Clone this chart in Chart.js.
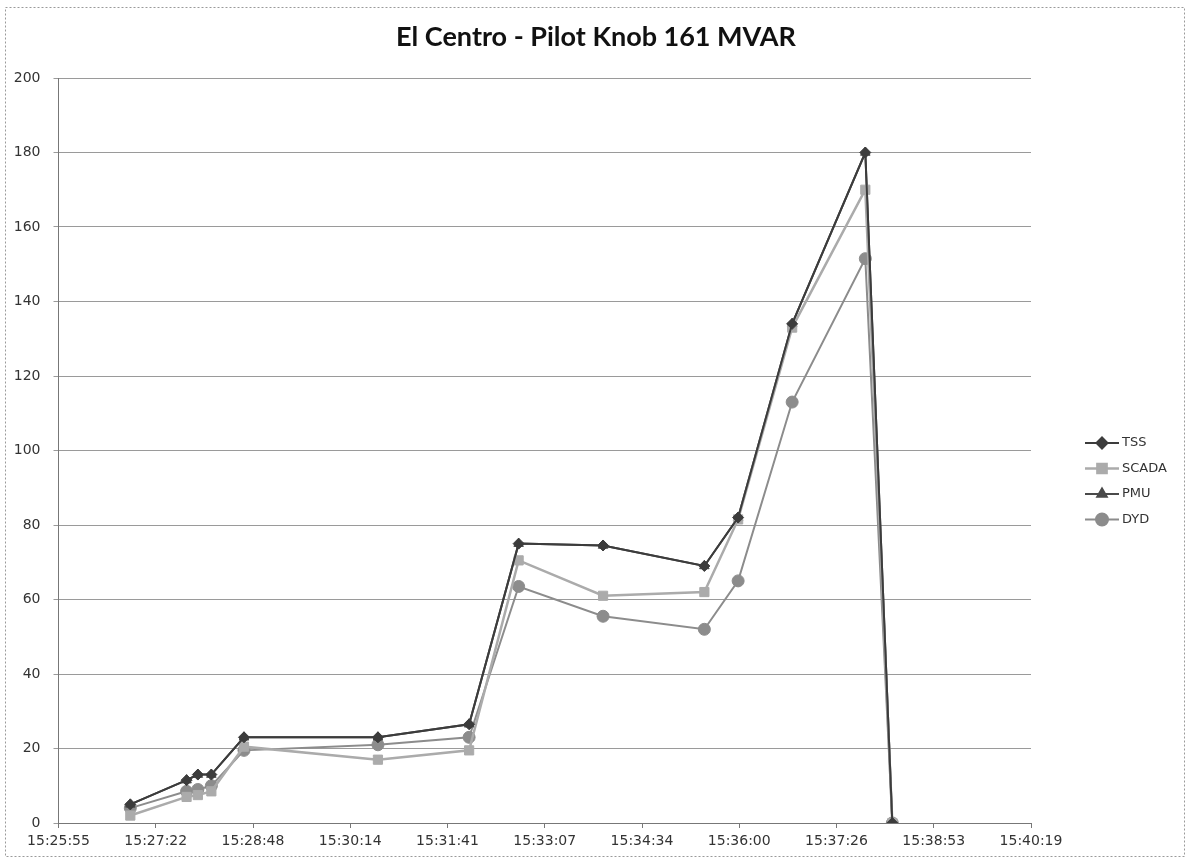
<!DOCTYPE html>
<html>
<head>
<meta charset="utf-8">
<script src="https://cdn.jsdelivr.net/npm/chart.js@4.4.0/dist/chart.umd.min.js"></script>
<style>
  html, body { margin: 0; padding: 0; background: #fff; }
  #wrap { width: 1193px; height: 862px; position: relative; }
</style>
</head>
<body>
<div id="wrap"><canvas id="chart"></canvas></div>
<script>
// valores
var times = ['15:26:59', '15:27:49', '15:27:59', '15:28:11', '15:28:40', '15:30:39', '15:32:00',
             '15:32:44', '15:33:59', '15:35:29', '15:35:59', '15:36:47', '15:37:52', '15:38:16'];
var tss   = [5, 11.5, 13, 13, 23, 23, 26.5, 75, 74.5, 69, 82, 134, 180, 0];
var scada = [2, 7, 7.5, 8.5, 20.5, 17, 19.5, 70.5, 61, 62, 81.5, 133, 170, 0];
var pmu   = [5, 11.5, 13, 13, 23, 23, 26.5, 75, 74.5, 69, 82, 134, 180, 0];
var dyd   = [4, 8.5, 9, 10, 19.5, 21, 23, 63.5, 55.5, 52, 65, 113, 151.5, 0];

var xTickLabels = ['15:25:55', '15:27:22', '15:28:48', '15:30:14', '15:31:41', '15:33:07',
                   '15:34:34', '15:36:00', '15:37:26', '15:38:53', '15:40:19'];
var chartTitle = 'El Centro - Pilot Knob 161 MVAR';

// el eje x va en unidades de 0.001 dia (86.4 s), como en Excel
function toUnits(t) {
    var p = t.split(':');
    return (p[0] * 3600 + p[1] * 60 + Number(p[2])) / 86.4;
}

function points(values) {
    return values.map(function (v, i) { return { x: toUnits(times[i]), y: v }; });
}

var series = [
    { label: 'TSS',   data: tss,   color: '#3c3c3c', style: 'rectRot',  radius: 5.5, width: 2 },
    { label: 'SCADA', data: scada, color: '#ababab', style: 'rect',     radius: 6.5, width: 2.5 },
    { label: 'PMU',   data: pmu,   color: '#4a4a4a', style: 'triangle', radius: 5.5, width: 2 },
    { label: 'DYD',   data: dyd,   color: '#8c8c8c', style: 'circle',   radius: 6, width: 2 }
];

// titulo, borde punteado y leyenda dibujados a mano
var decorPlugin = {
    id: 'decor',
    afterDraw: function (chart) {
        var ctx = chart.ctx;
        ctx.save();
        ctx.strokeStyle = '#9a9a9a';
        ctx.lineWidth = 1;
        ctx.setLineDash([2, 2]);
        ctx.strokeRect(5.5, 7.5, 1179, 849);
        ctx.setLineDash([]);

        ctx.fillStyle = '#111';
        ctx.font = 'bold 27px Lato';
        ctx.textAlign = 'center';
        ctx.textBaseline = 'middle';
        ctx.fillText(chartTitle, 596, 37);

        ctx.font = '13px "DejaVu Sans"';
        ctx.textAlign = 'left';
        series.forEach(function (s, i) {
            var y = 443 + i * 25.5;
            ctx.strokeStyle = s.color;
            ctx.fillStyle = s.color;
            ctx.lineWidth = s.width;
            ctx.beginPath();
            ctx.moveTo(1085, y);
            ctx.lineTo(1119, y);
            ctx.stroke();
            Chart.helpers.drawPoint(ctx, { pointStyle: s.style, radius: s.radius, rotation: 0, borderWidth: 1 }, 1102, y);
            ctx.fillStyle = '#333';
            ctx.fillText(s.label, 1122, y);
        });
        ctx.restore();
    }
};

var ctx = document.getElementById('chart').getContext('2d');
var myChart = new Chart(ctx, {
    type: 'line',
    data: {
        datasets: series.map(function (s) {
            return {
                label: s.label,
                data: points(s.data),
                borderColor: s.color,
                backgroundColor: s.color,
                borderWidth: s.width,
                pointStyle: s.style,
                pointRadius: s.radius,
                pointBorderWidth: 1,
                tension: 0
            };
        })
    },
    options: {
        responsive: true,
        maintainAspectRatio: false,
        animation: false,
        layout: { padding: { left: 10, right: 162, top: 78, bottom: 8 } },
        plugins: {
            legend: { display: false },
            title: { display: false },
            tooltip: { enabled: false }
        },
        scales: {
            x: {
                type: 'linear',
                min: 643,
                max: 653,
                ticks: {
                    stepSize: 1,
                    color: '#333',
                    font: { family: '"DejaVu Sans"', size: 14 },
                    maxRotation: 0,
                    autoSkip: false,
                    padding: 5,
                    callback: function (v, i) { return xTickLabels[i]; }
                },
                grid: { display: true, drawOnChartArea: false, color: '#777', tickLength: 5 },
                border: { color: '#777' },
                afterFit: function (scale) { scale.height = 31; }
            },
            y: {
                min: 0,
                max: 200,
                ticks: {
                    stepSize: 20,
                    color: '#333',
                    font: { family: '"DejaVu Sans"', size: 14 },
                    padding: 13
                },
                grid: { color: '#9a9a9a', tickLength: 5 },
                border: { color: '#777' },
                afterFit: function (scale) { scale.width = 48.5; }
            }
        }
    },
    plugins: [decorPlugin]
});
</script>
</body>
</html>
